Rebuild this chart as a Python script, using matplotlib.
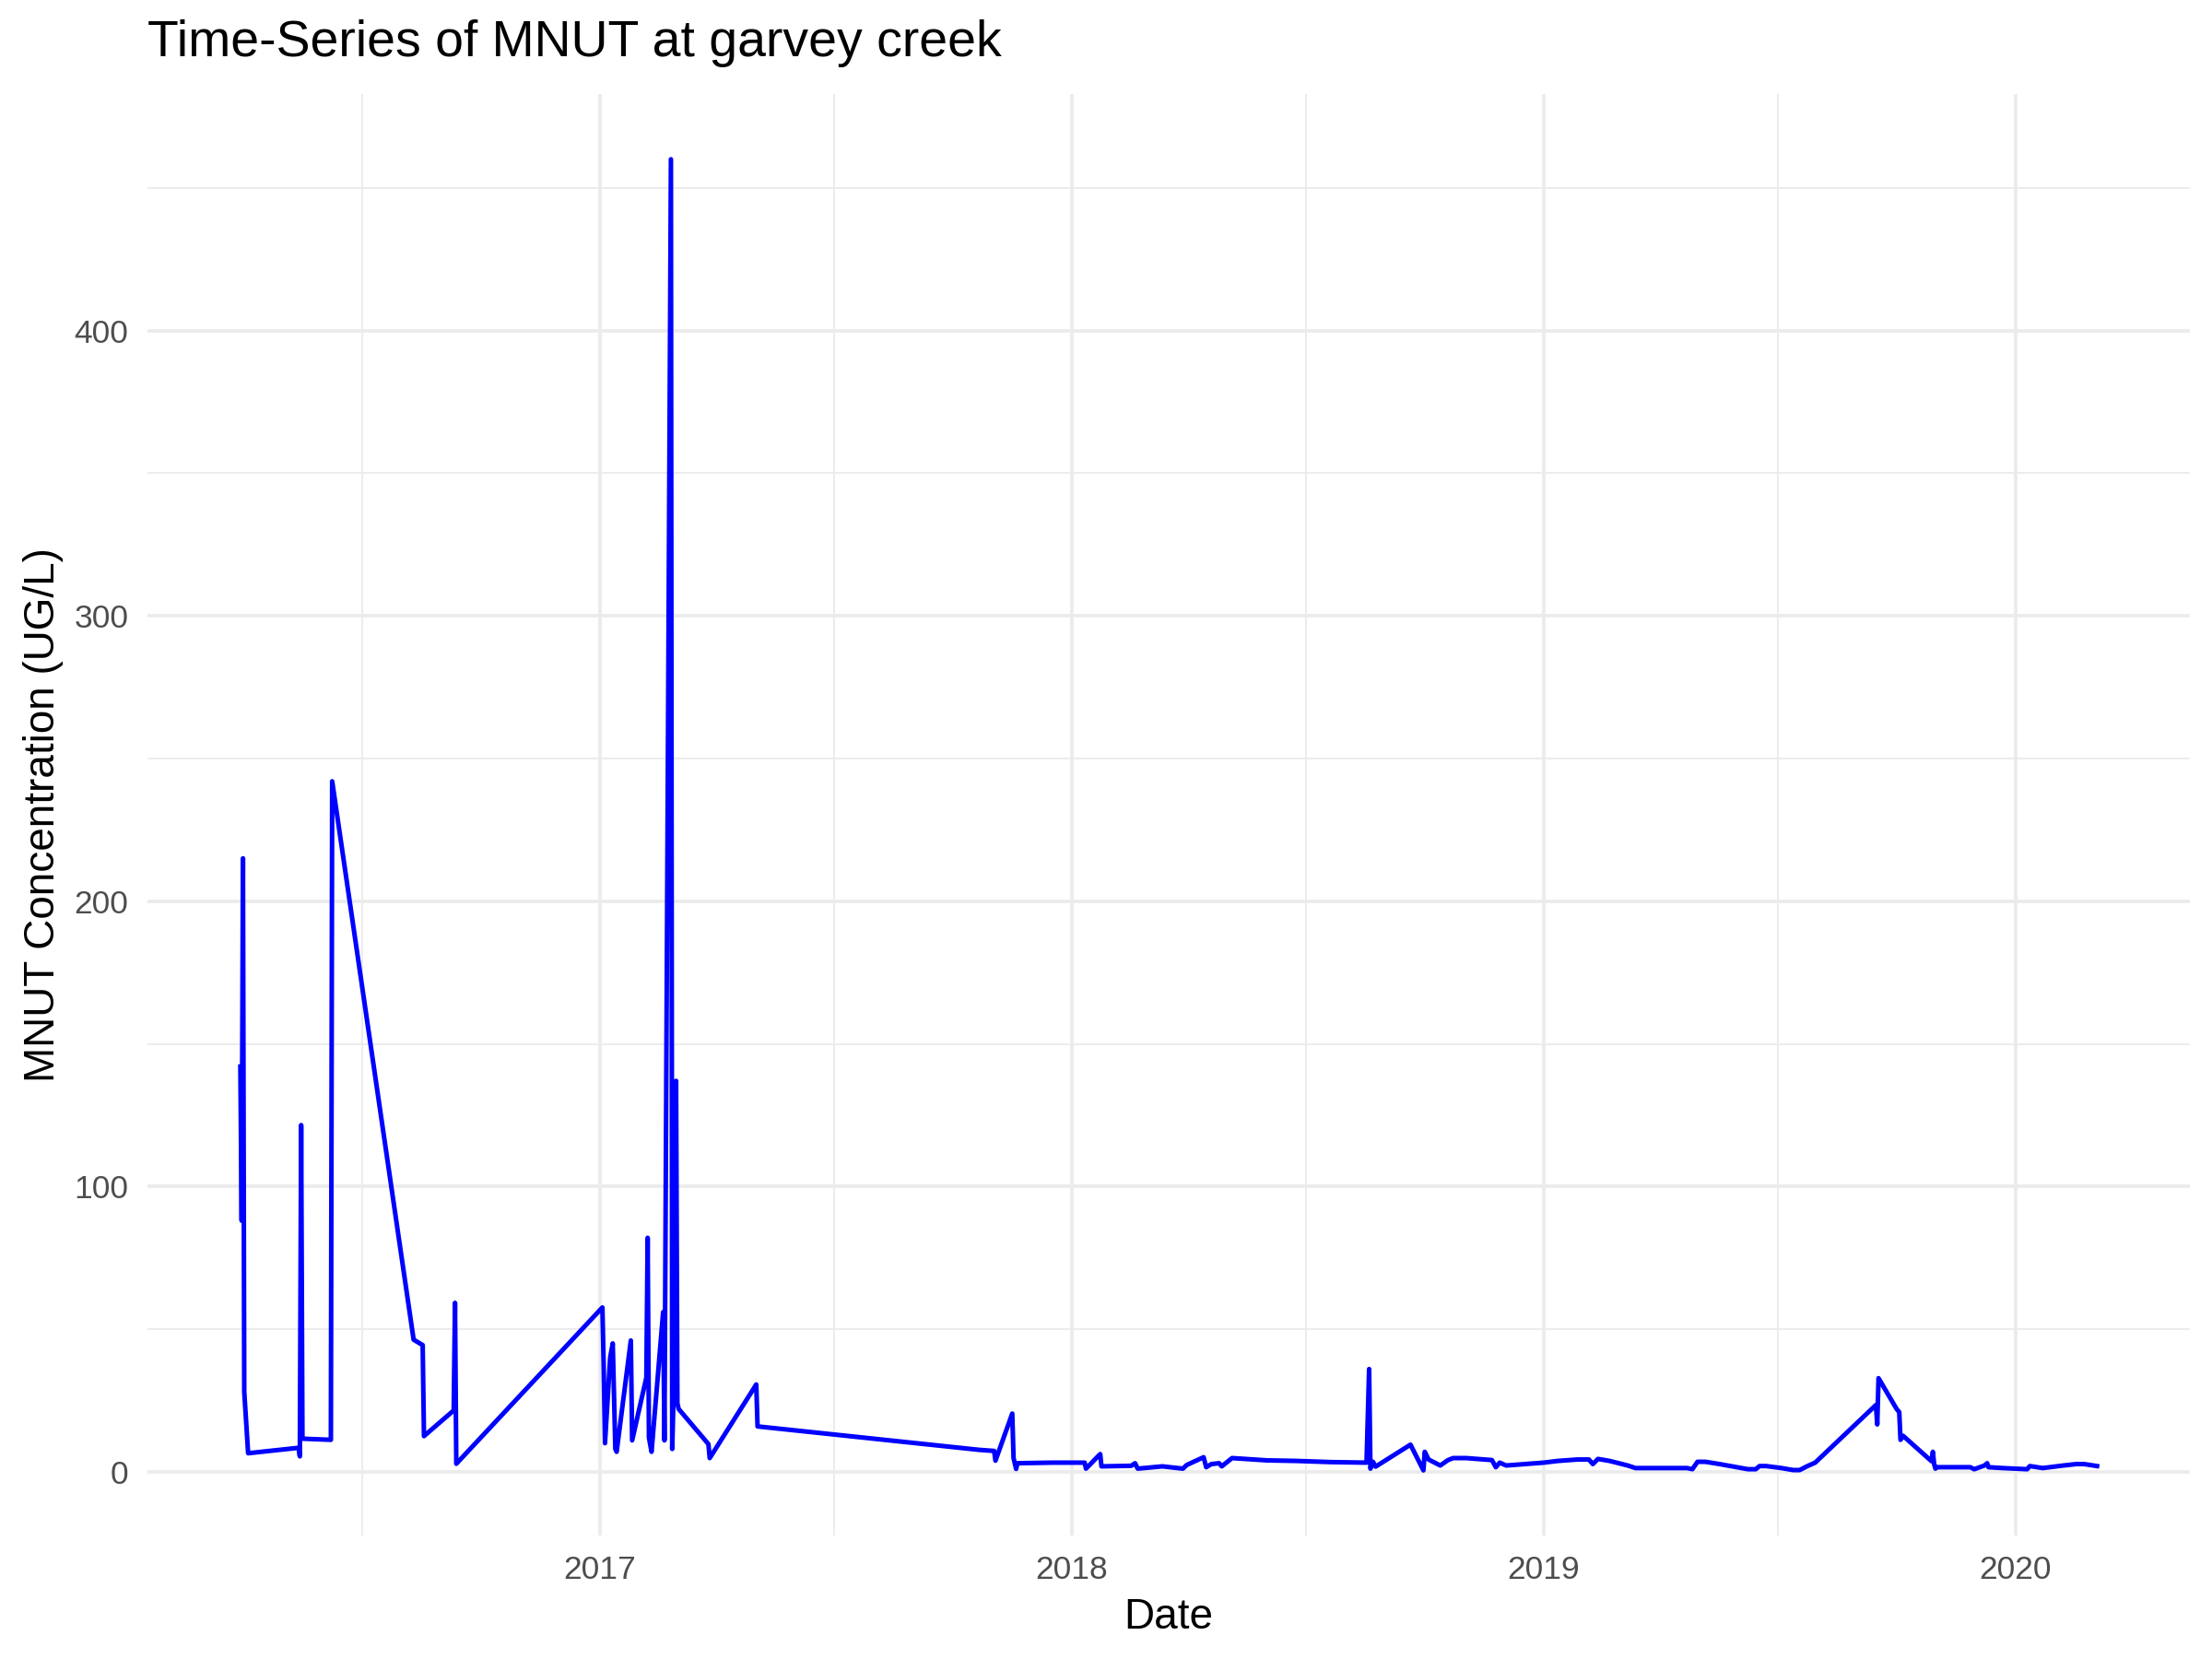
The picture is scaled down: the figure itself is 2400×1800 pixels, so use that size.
import numpy as np
import pandas as pd
import matplotlib
matplotlib.use("Agg")
import matplotlib.pyplot as plt
import matplotlib.dates as mdates

# Sample dates and MNUT values
dates = [
    "2016-03-29", "2016-03-30", "2016-03-31", "2016-04-01", "2016-04-04",
    "2016-05-13", "2016-05-14", "2016-05-15", "2016-05-16",
    "2016-06-07", "2016-06-08",
    "2016-08-10", "2016-08-17", "2016-08-18",
    "2016-09-10", "2016-09-11", "2016-09-12",
    "2017-01-03", "2017-01-04", "2017-01-05", "2017-01-09", "2017-01-11",
    "2017-01-13", "2017-01-14", "2017-01-25", "2017-01-26",
    "2017-02-06", "2017-02-07", "2017-02-08", "2017-02-10",
    "2017-02-19", "2017-02-20", "2017-02-25", "2017-02-26",
    "2017-02-28", "2017-03-01", "2017-03-02", "2017-03-03",
    "2017-03-26", "2017-03-27", "2017-05-02", "2017-05-03",
    "2017-10-21", "2017-11-02", "2017-11-03", "2017-11-16", "2017-11-17",
    "2017-11-19", "2017-11-20", "2017-12-17",
    "2018-01-11", "2018-01-12", "2018-01-23", "2018-01-24",
    "2018-02-16", "2018-02-19", "2018-02-21",
    "2018-03-12", "2018-03-28", "2018-03-31",
    "2018-04-13", "2018-04-15", "2018-04-19", "2018-04-25", "2018-04-27",
    "2018-05-05", "2018-06-01", "2018-06-24", "2018-07-20",
    "2018-08-17", "2018-08-18", "2018-08-19", "2018-08-20",
    "2018-08-22", "2018-08-24",
    "2018-09-20", "2018-09-30", "2018-10-01", "2018-10-04", "2018-10-13",
    "2018-10-19", "2018-10-23", "2018-11-02", "2018-11-22", "2018-11-25",
    "2018-11-28", "2018-12-03", "2018-12-17",
    "2019-01-01", "2019-01-12", "2019-01-27", "2019-02-05", "2019-02-08",
    "2019-02-12", "2019-02-21", "2019-03-07", "2019-03-13",
    "2019-04-22", "2019-04-26", "2019-04-30", "2019-05-06", "2019-05-17",
    "2019-06-08", "2019-06-14", "2019-06-17", "2019-06-22",
    "2019-07-04", "2019-07-13", "2019-07-18", "2019-07-24", "2019-07-30",
    "2019-09-15", "2019-09-16", "2019-09-17",
    "2019-10-01", "2019-10-03", "2019-10-04", "2019-10-06",
    "2019-10-28", "2019-10-29", "2019-10-30", "2019-10-31", "2019-11-01",
    "2019-11-27", "2019-11-30", "2019-12-08", "2019-12-10", "2019-12-11",
    "2019-12-22",
    "2020-01-10", "2020-01-12", "2020-01-22", "2020-02-07", "2020-02-17",
    "2020-02-23", "2020-03-04",
]
mnut = [
    142, 88, 215, 28, 6.5,
    8.4, 5.4, 121.5, 11.6,
    11.2, 242,
    46.3, 44.4, 12.5,
    21.5, 59.2, 2.8,
    57.6, 37, 10, 40, 45,
    8, 7, 46, 11,
    33, 82, 12, 7,
    56, 11, 460, 8,
    45, 137, 24, 22,
    9.7, 4.8, 30.6, 15.9,
    7.7, 7.3, 3.9, 20.4, 4.8,
    1.0, 3.0, 3.2,
    3.2, 1.1, 6.2, 1.9,
    2.1, 3.0, 1.1,
    1.9, 1.1, 2.4,
    5.1, 1.6, 2.7, 3.0, 1.9,
    4.8, 4.0, 3.8, 3.4,
    3.2, 19, 36, 1.1,
    3.5, 1.8,
    9.5, 0.5, 7, 4.3, 2.2,
    4.1, 4.8, 4.8, 4.1, 1.6,
    3.2, 2.2, 2.7,
    3.2, 3.8, 4.3, 4.3, 2.7,
    4.5, 3.8, 2.2, 1.3,
    1.3, 0.9, 3.5, 3.5, 2.7,
    0.9, 0.9, 2.0, 2.0,
    1.3, 0.6, 0.6, 2.0, 3.2,
    23.4, 16.6, 32.8,
    22.0, 20.9, 11.2, 12.6,
    3.7, 7, 2.7, 1.1, 1.6,
    1.6, 0.9, 2.2, 3.0, 1.6,
    1.3,
    0.9, 2.0, 1.3, 2.2, 2.7,
    2.7, 2.0,
]

x = pd.to_datetime(dates)
y = np.array(mnut)

plt.rcParams["font.family"] = ["Liberation Sans", "DejaVu Sans"]

fig = plt.figure(figsize=(8, 6), dpi=300)
ax = fig.add_axes([0.0667, 0.0742, 0.9233, 0.8693])

ax.plot(x, y, color="blue", linewidth=1.2)

# ggplot-like padding (5% each side)
span = x.max() - x.min()
ax.set_xlim(x.min() - span * 0.05, x.max() + span * 0.05)
yr = y.max() - y.min()
ax.set_ylim(y.min() - yr * 0.05, y.max() + yr * 0.05)

ax.xaxis.set_major_locator(mdates.YearLocator())
ax.xaxis.set_major_formatter(mdates.DateFormatter("%Y"))
ax.xaxis.set_minor_locator(mdates.MonthLocator(bymonth=7))
ax.set_yticks([0, 100, 200, 300, 400])
ax.set_yticks([50, 150, 250, 350, 450], minor=True)

ax.grid(True, which="major", color="#EBEBEB", linewidth=0.9)
ax.grid(True, which="minor", color="#EBEBEB", linewidth=0.45)
ax.set_axisbelow(True)
for s in ax.spines.values():
    s.set_visible(False)
ax.tick_params(which="both", length=0, labelsize=8.5, labelcolor="#4D4D4D")
ax.tick_params(axis="x", pad=5)
ax.tick_params(axis="y", pad=5)

ax.set_title("Time-Series of MNUT at garvey creek", loc="left", fontsize=13.3, pad=9.8)
ax.set_xlabel("Date", fontsize=11, labelpad=3)
ax.set_ylabel("MNUT Concentration (UG/L)", fontsize=11, labelpad=2.6)

fig.savefig("out.png", dpi=300, facecolor="white")
